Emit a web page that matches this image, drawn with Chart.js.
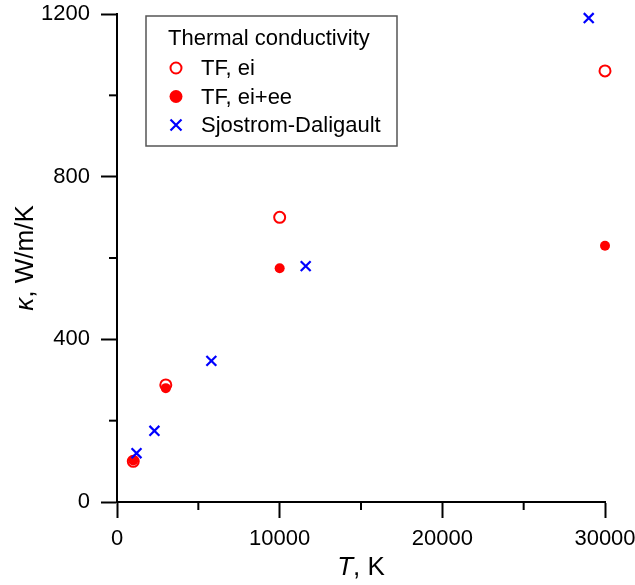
<!DOCTYPE html>
<html>
<head>
<meta charset="utf-8">
<script src="https://cdn.jsdelivr.net/npm/chart.js@4"></script>
<style>
  body { margin: 0; background: #fff; }
  #wrap { width: 635px; height: 585px; }
</style>
</head>
<body>
<div id="wrap"><canvas id="plot" width="635" height="585"></canvas></div>
<script>
// thermal conductivity vs temperature
const tfEiT = [1000, 3000, 10000, 30000];
const tfEiK = [100, 288, 700, 1060];
const tfEeT = [1000, 3000, 10000, 30000];
const tfEeK = [102, 280, 575, 630];
const sdT = [1200, 2300, 5800, 11600, 29000];
const sdK = [120, 175, 347, 580, 1190];

const seriesNames = ['TF, ei', 'TF, ei+ee', 'Sjostrom-Daligault'];
const legendTitle = 'Thermal conductivity';

const toPoints = (xs, ys) => xs.map((x, i) => ({ x: x, y: ys[i] }));

const FONT = '"Liberation Sans", Arial, sans-serif';

// minor ticks (short) + axis titles + legend box
const extras = {
    id: 'extras',
    afterDraw(chart) {
        const ctx = chart.ctx;
        const xs = chart.scales.x, ys = chart.scales.y;
        const area = chart.chartArea;
        ctx.save();
        ctx.strokeStyle = '#000';
        ctx.lineWidth = 2;
        for (let v = 5000; v <= 30000; v += 10000) {
            const px = xs.getPixelForValue(v);
            ctx.beginPath();
            ctx.moveTo(px, area.bottom);
            ctx.lineTo(px, area.bottom + 8);
            ctx.stroke();
        }
        for (let v = 200; v <= 1200; v += 400) {
            const py = ys.getPixelForValue(v);
            ctx.beginPath();
            ctx.moveTo(area.left, py);
            ctx.lineTo(area.left - 8, py);
            ctx.stroke();
        }

        // x title: T, K
        ctx.fillStyle = '#000';
        ctx.textBaseline = 'alphabetic';
        ctx.font = 'italic 26px ' + FONT;
        const wT = ctx.measureText('T').width;
        ctx.font = '26px ' + FONT;
        const wRest = ctx.measureText(', K').width;
        let cx = (area.left + area.right) / 2 - (wT + wRest) / 2;
        ctx.font = 'italic 26px ' + FONT;
        ctx.textAlign = 'left';
        ctx.fillText('T', cx, 575);
        ctx.font = '26px ' + FONT;
        ctx.fillText(', K', cx + wT, 575);

        // y title: κ, W/m/K
        ctx.save();
        ctx.translate(33, (area.top + area.bottom) / 2);
        ctx.rotate(-Math.PI / 2);
        ctx.font = 'italic 26px ' + FONT;
        const wk = ctx.measureText('κ').width;
        ctx.font = '26px ' + FONT;
        const wr = ctx.measureText(', W/m/K').width;
        let sx = -(wk + wr) / 2;
        ctx.font = 'italic 26px ' + FONT;
        ctx.fillText('κ', sx, 0);
        ctx.font = '26px ' + FONT;
        ctx.fillText(', W/m/K', sx + wk, 0);
        ctx.restore();

        // legend
        ctx.fillStyle = '#fff';
        ctx.fillRect(146, 16, 251, 130);
        ctx.strokeStyle = '#555';
        ctx.lineWidth = 1.5;
        ctx.strokeRect(146, 16, 251, 130);
        ctx.fillStyle = '#000';
        ctx.font = '22px ' + FONT;
        ctx.fillText(legendTitle, 168, 45);
        const rows = [75, 103.5, 132];
        seriesNames.forEach((name, i) => {
            const my = rows[i] - 7;
            const mx = 176;
            ctx.beginPath();
            if (i === 0) {
                ctx.strokeStyle = '#ff0000';
                ctx.lineWidth = 2;
                ctx.arc(mx, my, 5.5, 0, Math.PI * 2);
                ctx.stroke();
            } else if (i === 1) {
                ctx.fillStyle = '#ff0000';
                ctx.arc(mx, my, 6.5, 0, Math.PI * 2);
                ctx.fill();
            } else {
                ctx.strokeStyle = '#0000ff';
                ctx.lineWidth = 2.2;
                ctx.moveTo(mx - 5.5, my - 5.5); ctx.lineTo(mx + 5.5, my + 5.5);
                ctx.moveTo(mx - 5.5, my + 5.5); ctx.lineTo(mx + 5.5, my - 5.5);
                ctx.stroke();
            }
            ctx.fillStyle = '#000';
            ctx.fillText(name, 201, rows[i]);
        });
        ctx.restore();
    }
};

new Chart(document.getElementById('plot').getContext('2d'), {
    type: 'scatter',
    data: {
        datasets: [{
            label: seriesNames[0],
            data: toPoints(tfEiT, tfEiK),
            pointStyle: 'circle',
            pointRadius: 5.5,
            borderWidth: 2,
            borderColor: '#ff0000',
            backgroundColor: 'rgba(255,255,255,0)',
            clip: false,
            order: 2
        }, {
            label: seriesNames[1],
            data: toPoints(tfEeT, tfEeK),
            pointStyle: 'circle',
            pointRadius: 5,
            borderWidth: 0,
            borderColor: '#ff0000',
            backgroundColor: '#ff0000',
            clip: false,
            order: 1
        }, {
            label: seriesNames[2],
            data: toPoints(sdT, sdK),
            pointStyle: 'crossRot',
            pointRadius: 7,
            borderWidth: 2.2,
            borderColor: '#0000ff',
            backgroundColor: '#0000ff',
            clip: false,
            order: 0
        }]
    },
    options: {
        responsive: false,
        animation: false,
        layout: { padding: { top: 14, right: 30, left: 0, bottom: 0 } },
        plugins: {
            legend: { display: false },
            tooltip: { enabled: false }
        },
        scales: {
            x: {
                type: 'linear',
                min: 0,
                max: 30000,
                afterFit(scale) { scale.height = 83; scale.paddingRight = 0; scale.paddingLeft = 0; },
                border: { display: true, color: '#000', width: 2 },
                grid: {
                    drawOnChartArea: false,
                    drawTicks: true,
                    tickLength: 16,
                    tickWidth: 2,
                    tickColor: '#000'
                },
                ticks: {
                    stepSize: 10000,
                    maxRotation: 0,
                    padding: 8,
                    color: '#000',
                    font: { family: FONT, size: 22 },
                    callback: (v) => String(v)
                }
            },
            y: {
                type: 'linear',
                min: 0,
                max: 1200,
                afterFit(scale) { scale.width = 117; scale.paddingTop = 0; scale.paddingBottom = 0; },
                border: { display: true, color: '#000', width: 2 },
                grid: {
                    drawOnChartArea: false,
                    drawTicks: true,
                    tickLength: 16,
                    tickWidth: 2,
                    tickColor: '#000'
                },
                ticks: {
                    stepSize: 400,
                    padding: 11,
                    color: '#000',
                    font: { family: FONT, size: 22 },
                    callback: (v) => String(v)
                }
            }
        }
    },
    plugins: [extras]
});
</script>
</body>
</html>
